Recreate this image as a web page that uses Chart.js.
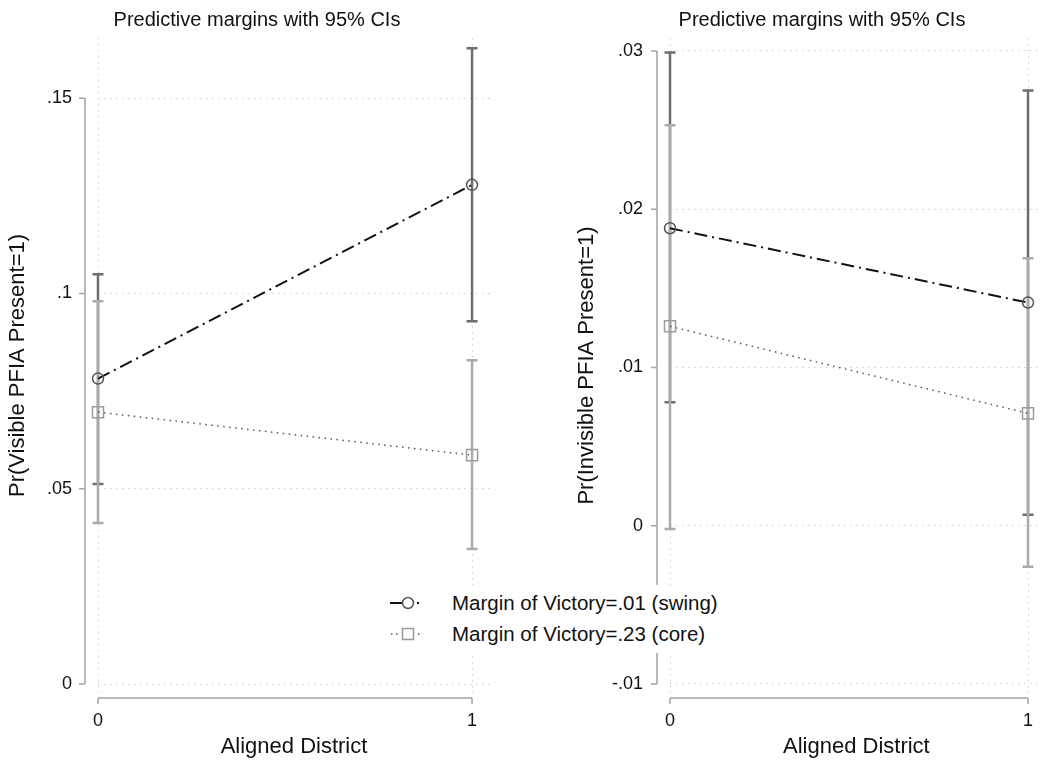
<!DOCTYPE html>
<html>
<head>
<meta charset="utf-8">
<script src="https://cdn.jsdelivr.net/npm/chart.js@4.4.1/dist/chart.umd.min.js"></script>
<style>
  body { margin: 0; background: #fff; width: 1052px; height: 762px; overflow: hidden; position: relative;
         font-family: "Liberation Sans", Arial, Helvetica, sans-serif; }
  canvas { position: absolute; top: 0; }
  #left { left: 0; }
  #right { left: 525px; }
  #legend { position: absolute; left: 383px; top: 585px; width: 345px; height: 68px; background: #fff; }
  .row { position: absolute; left: 0; height: 30px; display: flex; align-items: center; font-size: 20.5px; color: #111; }
  .row svg { margin-left: 7px; margin-right: 26px; }
</style>
</head>
<body>
<canvas id="left" width="525" height="762"></canvas>
<canvas id="right" width="527" height="762"></canvas>
<div id="legend">
  <div class="row" style="top:3px">
    <svg width="36" height="20"><line x1="0" y1="10" x2="12.5" y2="10" stroke="#111" stroke-width="2"/>
      <circle cx="18" cy="10" r="5.5" fill="none" stroke="#555" stroke-width="1.5"/>
      <line x1="27" y1="10" x2="29" y2="10" stroke="#111" stroke-width="2"/></svg>
    <span id="leg0"></span>
  </div>
  <div class="row" style="top:34px">
    <svg width="36" height="20"><line x1="1" y1="10" x2="2.5" y2="10" stroke="#555" stroke-width="1.5"/>
      <line x1="6" y1="10" x2="7.5" y2="10" stroke="#555" stroke-width="1.5"/>
      <rect x="12.5" y="4.5" width="11" height="11" fill="none" stroke="#999" stroke-width="1.5"/>
      <line x1="28" y1="10" x2="29.5" y2="10" stroke="#555" stroke-width="1.5"/></svg>
    <span id="leg1"></span>
  </div>
</div>
<script>
// data
const xCats = [0, 1];
const xTickLabels = ['0', '1'];
const seriesNames = ['Margin of Victory=.01 (swing)', 'Margin of Victory=.23 (core)'];

// left panel: Pr(Visible PFIA Present=1)
const visSwing = [0.0782, 0.1278];
const visSwingLo = [0.0512, 0.0929];
const visSwingHi = [0.1049, 0.1628];
const visCore = [0.0696, 0.0586];
const visCoreLo = [0.0412, 0.0346];
const visCoreHi = [0.0980, 0.0829];
const visTicks = [0, 0.05, 0.1, 0.15];
const visTickLabels = ['0', '.05', '.1', '.15'];

// right panel: Pr(Invisible PFIA Present=1)
const invSwing = [0.0188, 0.0141];
const invSwingLo = [0.0078, 0.0007];
const invSwingHi = [0.0299, 0.0275];
const invCore = [0.0126, 0.0071];
const invCoreLo = [-0.0002, -0.0026];
const invCoreHi = [0.0253, 0.0169];
const invTicks = [-0.01, 0, 0.01, 0.02, 0.03];
const invTickLabels = ['-.01', '0', '.01', '.02', '.03'];

const panelTitle = 'Predictive margins with 95% CIs';
const xTitle = 'Aligned District';

document.getElementById('leg0').textContent = seriesNames[0];
document.getElementById('leg1').textContent = seriesNames[1];

Chart.defaults.font.family = '"Liberation Sans", Arial, Helvetica, sans-serif';
Chart.defaults.color = '#111';

// confidence interval caps
function ciPlugin(bars) {
  return {
    id: 'ciBars',
    beforeDatasetsDraw(chart) {
      const { ctx, scales: { x, y } } = chart;
      bars.forEach(b => {
        ctx.save();
        ctx.strokeStyle = b.color;
        ctx.lineWidth = 2.5;
        xCats.forEach((xv, i) => {
          const px = x.getPixelForValue(xv);
          const top = y.getPixelForValue(b.hi[i]);
          const bot = y.getPixelForValue(b.lo[i]);
          ctx.beginPath();
          ctx.moveTo(px, top); ctx.lineTo(px, bot);
          ctx.moveTo(px - 5.5, top); ctx.lineTo(px + 5.5, top);
          ctx.moveTo(px - 5.5, bot); ctx.lineTo(px + 5.5, bot);
          ctx.stroke();
        });
        ctx.restore();
      });
    }
  };
}

// stata style axis lines, set off from the plot region
const axisLines = {
  id: 'axisLines',
  afterDraw(chart) {
    const { ctx, chartArea, scales: { x, y } } = chart;
    ctx.save();
    ctx.strokeStyle = '#a3a3a3';
    ctx.lineWidth = 1.5;
    const ax = chartArea.left - 13;
    const yt = y.ticks.map(t => y.getPixelForValue(t.value));
    ctx.beginPath();
    ctx.moveTo(ax, Math.min(...yt)); ctx.lineTo(ax, Math.max(...yt));
    yt.forEach(p => { ctx.moveTo(ax - 6, p); ctx.lineTo(ax, p); });
    const ay = chartArea.bottom + 5;
    const xt = x.ticks.map(t => x.getPixelForValue(t.value));
    ctx.moveTo(Math.min(...xt), ay); ctx.lineTo(Math.max(...xt), ay);
    xt.forEach(p => { ctx.moveTo(p, ay); ctx.lineTo(p, ay + 6); });
    ctx.stroke();
    ctx.restore();
  }
};

function titlePlugin(cx) {
  return {
    id: 'panelTitle',
    afterDraw(chart) {
      const ctx = chart.ctx;
      ctx.save();
      ctx.font = '20px "Liberation Sans", Arial, sans-serif';
      ctx.fillStyle = '#111';
      ctx.textAlign = 'center';
      ctx.textBaseline = 'middle';
      ctx.fillText(panelTitle, cx, 20);
      ctx.restore();
    }
  };
}

function makePanel(id, cfg) {
  const swingPts = xCats.map((x, i) => ({ x, y: cfg.swing[i] }));
  const corePts = xCats.map((x, i) => ({ x, y: cfg.core[i] }));
  return new Chart(document.getElementById(id), {
    type: 'line',
    data: {
      datasets: [
        {
          label: seriesNames[0], data: swingPts,
          borderColor: '#111', borderWidth: 2, borderDash: [13, 5, 2, 5],
          pointStyle: 'circle', pointRadius: 5.5, pointBorderWidth: 1.5,
          pointBorderColor: '#555', pointBackgroundColor: 'rgba(0,0,0,0)', clip: false
        },
        {
          label: seriesNames[1], data: corePts,
          borderColor: '#555', borderWidth: 1.5, borderDash: [1.5, 4.5],
          pointStyle: 'rect', pointRadius: 7.8, pointBorderWidth: 1.5,
          pointBorderColor: '#9c9c9c', pointBackgroundColor: 'rgba(0,0,0,0)', clip: false
        }
      ]
    },
    options: {
      responsive: false,
      animation: false,
      layout: { padding: { top: 38, right: cfg.padRight, left: 0, bottom: 0 } },
      plugins: { legend: { display: false }, tooltip: { enabled: false } },
      scales: {
        x: {
          type: 'linear', min: 0, max: cfg.xMax,
          afterBuildTicks: s => { s.ticks = xCats.map(v => ({ value: v })); },
          afterFit: s => { s.height = 69; },
          ticks: { padding: 17, font: { size: 18 }, callback: (v, i) => xTickLabels[i] },
          grid: { color: '#cfcfcf', lineWidth: 1, drawTicks: false },
          border: { display: false, dash: [1.5, 4.5] },
          title: { display: true, text: xTitle, font: { size: 22 }, padding: { top: 0, bottom: 2 } }
        },
        y: {
          type: 'linear', min: cfg.yMin, max: cfg.yMax,
          afterBuildTicks: s => { s.ticks = cfg.ticks.map(v => ({ value: v })); },
          afterFit: s => { s.width = cfg.yWidth; },
          ticks: { padding: cfg.tickPad, font: { size: 18 }, callback: (v, i) => cfg.tickLabels[i] },
          grid: { color: '#cfcfcf', lineWidth: 1, drawTicks: false },
          border: { display: false, dash: [1.5, 4.5] },
          title: { display: true, text: cfg.yTitle, font: { size: 22 }, padding: { top: cfg.titlePad, bottom: 0 } }
        }
      }
    },
    plugins: [
      ciPlugin([
        { lo: cfg.swingLo, hi: cfg.swingHi, color: '#6e6e6e' },
        { lo: cfg.coreLo, hi: cfg.coreHi, color: '#ababab' }
      ]),
      axisLines,
      titlePlugin(cfg.titleX)
    ]
  });
}

makePanel('left', {
  swing: visSwing, swingLo: visSwingLo, swingHi: visSwingHi,
  core: visCore, coreLo: visCoreLo, coreHi: visCoreHi,
  ticks: visTicks, tickLabels: visTickLabels,
  yMin: -0.0023, yMax: 0.1654, xMax: 1.048,
  yWidth: 98, tickPad: 26, padRight: 35, titlePad: 5, titleX: 257,
  yTitle: 'Pr(Visible PFIA Present=1)'
});

makePanel('right', {
  swing: invSwing, swingLo: invSwingLo, swingHi: invSwingHi,
  core: invCore, coreLo: invCoreLo, coreHi: invCoreHi,
  ticks: invTicks, tickLabels: invTickLabels,
  yMin: -0.01057, yMax: 0.03082, xMax: 1.041,
  yWidth: 145, tickPad: 27, padRight: 0, titlePad: 49, titleX: 297,
  yTitle: 'Pr(Invisible PFIA Present=1)'
});
</script>
</body>
</html>
